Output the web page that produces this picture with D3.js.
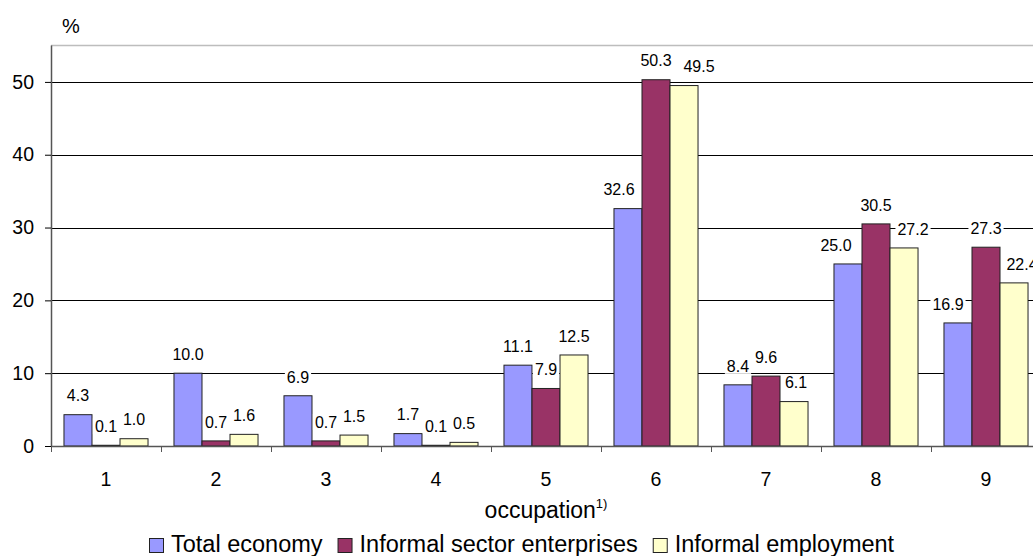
<!DOCTYPE html>
<html>
<head>
<meta charset="utf-8">
<script src="https://cdn.jsdelivr.net/npm/d3@7/dist/d3.min.js"></script>
<style>
  html, body { margin: 0; padding: 0; background: #fff; }
  svg { display: block; font-family: Arial, "Liberation Sans", sans-serif; }
</style>
</head>
<body>
<svg id="chart" width="1033" height="556"></svg>
<script>
// Occupation groups (ISCO major groups 1–9)
const categories = ["1", "2", "3", "4", "5", "6", "7", "8", "9"];
const seriesNames = ["Total economy", "Informal sector enterprises", "Informal employment"];

// Share of employed persons by occupation, %
const totalEconomy     = [4.3, 10.0, 6.9, 1.7, 11.1, 32.6, 8.4, 25.0, 16.9];
const informalSector   = [0.1, 0.7, 0.7, 0.1, 7.9, 50.3, 9.6, 30.5, 27.3];
const informalEmploy   = [1.0, 1.6, 1.5, 0.5, 12.5, 49.5, 6.1, 27.2, 22.4];

const yTicks = [0, 10, 20, 30, 40, 50];

const seriesValues = [totalEconomy, informalSector, informalEmploy];
const colors = ["#9999FF", "#993366", "#FFFFCC"];

const svg = d3.select("#chart");

const plot = { left: 51, right: 1041, top: 45.5, bottom: 446 };

const x0 = d3.scaleBand().domain(categories).range([plot.left, plot.right]).padding(0);
const bw = x0.bandwidth();
const x1 = d3.scaleBand().domain(seriesNames).range([bw * 0.118, bw * 0.882]).padding(0);
const y = d3.scaleLinear().domain([0, 55]).range([plot.bottom, plot.top]);

// Top frame line
svg.append("line")
  .attr("x1", plot.left).attr("x2", plot.right)
  .attr("y1", plot.top).attr("y2", plot.top)
  .attr("stroke", "#bdbdbd").attr("stroke-width", 1.5);

// Horizontal gridlines
svg.append("g").selectAll("line")
  .data(yTicks.filter(d => d > 0))
  .join("line")
  .attr("x1", plot.left).attr("x2", plot.right)
  .attr("y1", d => Math.round(y(d)) + 0.5).attr("y2", d => Math.round(y(d)) + 0.5)
  .attr("stroke", "#000").attr("stroke-width", 1);

// Bars
const groups = svg.append("g").selectAll("g")
  .data(categories)
  .join("g")
  .attr("transform", d => `translate(${x0(d)},0)`);

groups.selectAll("rect")
  .data((c, i) => seriesNames.map((s, j) => ({ cat: c, series: s, j, value: seriesValues[j][i] })))
  .join("rect")
  .attr("x", d => x1(d.series))
  .attr("y", d => y(d.value))
  .attr("width", x1.bandwidth())
  .attr("height", d => plot.bottom - y(d.value))
  .attr("fill", d => colors[d.j])
  .attr("stroke", "#222")
  .attr("stroke-width", 1);

// Y axis
const yAxis = svg.append("g")
  .attr("transform", `translate(${plot.left},0)`)
  .call(d3.axisLeft(y).tickValues(yTicks).tickSize(6).tickPadding(11).tickFormat(d3.format("d")));
yAxis.select(".domain").attr("d", `M0.5,${plot.top}V${plot.bottom}`).attr("stroke", "#555").attr("stroke-width", 1.5);
yAxis.selectAll(".tick line").attr("stroke", "#000");
yAxis.selectAll(".tick text")
  .attr("font-size", "19.5px").attr("fill", "#000")
  .attr("font-family", "Arial, 'Liberation Sans', sans-serif");

// X axis: baseline with separator ticks between categories
const xAxis = svg.append("g");
xAxis.append("line")
  .attr("x1", plot.left).attr("x2", plot.right)
  .attr("y1", plot.bottom + 0.5).attr("y2", plot.bottom + 0.5)
  .attr("stroke", "#555").attr("stroke-width", 1.5);
xAxis.selectAll("line.sep")
  .data(d3.range(categories.length + 1))
  .join("line")
  .attr("class", "sep")
  .attr("x1", i => plot.left + i * bw + 0.5).attr("x2", i => plot.left + i * bw + 0.5)
  .attr("y1", plot.bottom).attr("y2", plot.bottom + 6)
  .attr("stroke", "#555");
xAxis.selectAll("text")
  .data(categories)
  .join("text")
  .attr("x", d => x0(d) + bw / 2)
  .attr("y", 485.5)
  .attr("text-anchor", "middle")
  .attr("font-size", "19.5px")
  .text(d => d);

// Data labels, a few shifted sideways to keep clear of their neighbours
const labelShift = { "6|0": -9, "6|2": 15, "8|0": -12, "8|2": 9, "9|0": -10, "9|2": 8, "7|2": 2 };
const labels = groups.selectAll("g.lbl")
  .data((c, i) => seriesNames.map((s, j) => ({ cat: c, series: s, j, value: seriesValues[j][i] })))
  .join("g")
  .attr("class", "lbl")
  .attr("transform", d => {
    const cx = x1(d.series) + x1.bandwidth() / 2 + (labelShift[d.cat + "|" + d.j] || 0);
    return `translate(${cx},${y(d.value) - 19})`;
  });
labels.each(function(d) {
  const g = d3.select(this);
  const bg = g.append("rect").attr("fill", "#fff");
  const t = g.append("text")
    .attr("text-anchor", "middle")
    .attr("dy", "0.36em")
    .attr("font-size", "16px")
    .attr("fill", "#000")
    .text(d3.format(".1f")(d.value));
  const w = t.node().getComputedTextLength();
  bg.attr("x", -w / 2 - 2).attr("y", -8).attr("width", w + 4).attr("height", 16);
});

// Unit label
svg.append("text")
  .attr("x", 62).attr("y", 33)
  .attr("font-size", "20px")
  .text("%");

// Axis title with footnote marker
const title = svg.append("text")
  .attr("x", (plot.left + plot.right) / 2)
  .attr("y", 518)
  .attr("text-anchor", "middle")
  .attr("font-size", "23px");
title.append("tspan").text("occupation");
title.append("tspan").attr("font-size", "13px").attr("dy", "-10").text("1)");

// Legend
const legend = svg.append("g");
let lx = 0;
const items = seriesNames.map((name, j) => {
  const g = legend.append("g");
  g.append("rect")
    .attr("x", 0.5).attr("y", 538.5)
    .attr("width", 14).attr("height", 14)
    .attr("fill", colors[j]).attr("stroke", "#222");
  const t = g.append("text")
    .attr("x", 22).attr("y", 552)
    .attr("font-size", "23.5px")
    .text(name);
  const w = 22 + t.node().getComputedTextLength();
  g.attr("transform", `translate(${lx},0)`);
  lx += w + 15;
  return g;
});
const legendWidth = lx - 15;
legend.attr("transform", `translate(${Math.round(522 - legendWidth / 2)},0)`);
</script>
</body>
</html>
